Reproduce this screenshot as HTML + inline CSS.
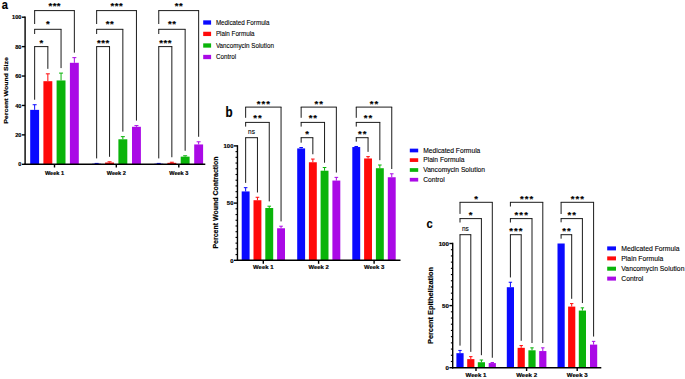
<!DOCTYPE html>
<html><head><meta charset="utf-8"><title>Figure</title>
<style>html,body{margin:0;padding:0;background:#fff;overflow:hidden}svg{display:block}text{font-family:"Liberation Sans",Arial,sans-serif;fill:#000}</style>
</head><body>
<svg width="685" height="379" viewBox="0 0 685 379">
<rect width="685" height="379" fill="#fff"/>
<line x1="34.65" y1="109.87" x2="34.65" y2="104.72" stroke="#0a0aff" stroke-width="1.0"/>
<line x1="32.65" y1="104.72" x2="36.65" y2="104.72" stroke="#0a0aff" stroke-width="1.0"/>
<rect x="30.20" y="109.87" width="8.90" height="54.43" fill="#0a0aff"/>
<line x1="47.85" y1="81.19" x2="47.85" y2="73.83" stroke="#ff0a0a" stroke-width="1.0"/>
<line x1="45.85" y1="73.83" x2="49.85" y2="73.83" stroke="#ff0a0a" stroke-width="1.0"/>
<rect x="43.40" y="81.19" width="8.90" height="83.11" fill="#ff0a0a"/>
<line x1="61.05" y1="80.45" x2="61.05" y2="73.10" stroke="#0ab40a" stroke-width="1.0"/>
<line x1="59.05" y1="73.10" x2="63.05" y2="73.10" stroke="#0ab40a" stroke-width="1.0"/>
<rect x="56.60" y="80.45" width="8.90" height="83.85" fill="#0ab40a"/>
<line x1="74.35" y1="62.80" x2="74.35" y2="57.65" stroke="#aa0ae6" stroke-width="1.0"/>
<line x1="72.35" y1="57.65" x2="76.35" y2="57.65" stroke="#aa0ae6" stroke-width="1.0"/>
<rect x="69.90" y="62.80" width="8.90" height="101.50" fill="#aa0ae6"/>
<line x1="96.65" y1="163.71" x2="96.65" y2="163.42" stroke="#0a0aff" stroke-width="1.0"/>
<line x1="94.65" y1="163.42" x2="98.65" y2="163.42" stroke="#0a0aff" stroke-width="1.0"/>
<rect x="92.20" y="163.71" width="8.90" height="0.59" fill="#0a0aff"/>
<line x1="109.55" y1="162.53" x2="109.55" y2="161.80" stroke="#ff0a0a" stroke-width="1.0"/>
<line x1="107.55" y1="161.80" x2="111.55" y2="161.80" stroke="#ff0a0a" stroke-width="1.0"/>
<rect x="105.10" y="162.53" width="8.90" height="1.77" fill="#ff0a0a"/>
<line x1="122.85" y1="139.29" x2="122.85" y2="136.65" stroke="#0ab40a" stroke-width="1.0"/>
<line x1="120.85" y1="136.65" x2="124.85" y2="136.65" stroke="#0ab40a" stroke-width="1.0"/>
<rect x="118.40" y="139.29" width="8.90" height="25.01" fill="#0ab40a"/>
<line x1="136.45" y1="126.79" x2="136.45" y2="125.61" stroke="#aa0ae6" stroke-width="1.0"/>
<line x1="134.45" y1="125.61" x2="138.45" y2="125.61" stroke="#aa0ae6" stroke-width="1.0"/>
<rect x="132.00" y="126.79" width="8.90" height="37.51" fill="#aa0ae6"/>
<line x1="158.75" y1="163.71" x2="158.75" y2="163.42" stroke="#0a0aff" stroke-width="1.0"/>
<line x1="156.75" y1="163.42" x2="160.75" y2="163.42" stroke="#0a0aff" stroke-width="1.0"/>
<rect x="154.30" y="163.71" width="8.90" height="0.59" fill="#0a0aff"/>
<line x1="171.85" y1="162.83" x2="171.85" y2="162.24" stroke="#ff0a0a" stroke-width="1.0"/>
<line x1="169.85" y1="162.24" x2="173.85" y2="162.24" stroke="#ff0a0a" stroke-width="1.0"/>
<rect x="167.40" y="162.83" width="8.90" height="1.47" fill="#ff0a0a"/>
<line x1="185.15" y1="156.65" x2="185.15" y2="155.77" stroke="#0ab40a" stroke-width="1.0"/>
<line x1="183.15" y1="155.77" x2="187.15" y2="155.77" stroke="#0ab40a" stroke-width="1.0"/>
<rect x="180.70" y="156.65" width="8.90" height="7.65" fill="#0ab40a"/>
<line x1="198.65" y1="144.44" x2="198.65" y2="141.79" stroke="#aa0ae6" stroke-width="1.0"/>
<line x1="196.65" y1="141.79" x2="200.65" y2="141.79" stroke="#aa0ae6" stroke-width="1.0"/>
<rect x="194.20" y="144.44" width="8.90" height="19.86" fill="#aa0ae6"/>
<line x1="25.10" y1="165.00" x2="25.10" y2="16.50" stroke="#000" stroke-width="1.4"/>
<line x1="24.40" y1="164.30" x2="205.30" y2="164.30" stroke="#000" stroke-width="1.4"/>
<line x1="21.90" y1="164.30" x2="25.10" y2="164.30" stroke="#000" stroke-width="1.4"/>
<text transform="translate(21.40 166.42) scale(0.95 1)" font-size="5.9" text-anchor="end" font-weight="bold" stroke="#000" stroke-width="0.18">0</text>
<line x1="21.90" y1="134.88" x2="25.10" y2="134.88" stroke="#000" stroke-width="1.4"/>
<text transform="translate(21.40 137.00) scale(0.95 1)" font-size="5.9" text-anchor="end" font-weight="bold" stroke="#000" stroke-width="0.18">20</text>
<line x1="21.90" y1="105.46" x2="25.10" y2="105.46" stroke="#000" stroke-width="1.4"/>
<text transform="translate(21.40 107.58) scale(0.95 1)" font-size="5.9" text-anchor="end" font-weight="bold" stroke="#000" stroke-width="0.18">40</text>
<line x1="21.90" y1="76.04" x2="25.10" y2="76.04" stroke="#000" stroke-width="1.4"/>
<text transform="translate(21.40 78.16) scale(0.95 1)" font-size="5.9" text-anchor="end" font-weight="bold" stroke="#000" stroke-width="0.18">60</text>
<line x1="21.90" y1="46.62" x2="25.10" y2="46.62" stroke="#000" stroke-width="1.4"/>
<text transform="translate(21.40 48.74) scale(0.95 1)" font-size="5.9" text-anchor="end" font-weight="bold" stroke="#000" stroke-width="0.18">80</text>
<line x1="21.90" y1="17.20" x2="25.10" y2="17.20" stroke="#000" stroke-width="1.4"/>
<text transform="translate(21.40 19.32) scale(0.95 1)" font-size="5.9" text-anchor="end" font-weight="bold" stroke="#000" stroke-width="0.18">100</text>
<line x1="54.50" y1="164.30" x2="54.50" y2="167.50" stroke="#000" stroke-width="1.4"/>
<text transform="translate(54.50 175.00) scale(0.95 1)" font-size="5.9" text-anchor="middle" font-weight="bold" stroke="#000" stroke-width="0.18">Week 1</text>
<line x1="116.30" y1="164.30" x2="116.30" y2="167.50" stroke="#000" stroke-width="1.4"/>
<text transform="translate(116.30 175.00) scale(0.95 1)" font-size="5.9" text-anchor="middle" font-weight="bold" stroke="#000" stroke-width="0.18">Week 2</text>
<line x1="178.80" y1="164.30" x2="178.80" y2="167.50" stroke="#000" stroke-width="1.4"/>
<text transform="translate(178.80 175.00) scale(0.95 1)" font-size="5.9" text-anchor="middle" font-weight="bold" stroke="#000" stroke-width="0.18">Week 3</text>
<text transform="translate(8.30 90.50) rotate(-90) scale(1.12 1)" font-size="6.2" text-anchor="middle" font-weight="bold" stroke="#000" stroke-width="0.18">Percent Wound Size</text>
<line x1="34.20" y1="10.60" x2="74.80" y2="10.60" stroke="#000" stroke-width="0.9"/>
<line x1="34.65" y1="10.60" x2="34.65" y2="24.00" stroke="#000" stroke-width="0.9"/>
<line x1="74.35" y1="10.60" x2="74.35" y2="52.65" stroke="#000" stroke-width="0.9"/>
<text transform="translate(54.75 9.11)" font-size="9.5" text-anchor="middle" font-weight="bold" stroke="#000" stroke-width="0.18" letter-spacing="0.5">***</text>
<line x1="34.20" y1="29.30" x2="61.50" y2="29.30" stroke="#000" stroke-width="0.9"/>
<line x1="34.65" y1="29.30" x2="34.65" y2="34.00" stroke="#000" stroke-width="0.9"/>
<line x1="61.05" y1="29.30" x2="61.05" y2="68.10" stroke="#000" stroke-width="0.9"/>
<text transform="translate(48.10 27.02)" font-size="9.5" text-anchor="middle" font-weight="bold" stroke="#000" stroke-width="0.18" letter-spacing="0.5">*</text>
<line x1="34.20" y1="46.60" x2="48.30" y2="46.60" stroke="#000" stroke-width="0.9"/>
<line x1="34.65" y1="46.60" x2="34.65" y2="99.72" stroke="#000" stroke-width="0.9"/>
<line x1="47.85" y1="46.60" x2="47.85" y2="68.83" stroke="#000" stroke-width="0.9"/>
<text transform="translate(41.50 45.72)" font-size="9.5" text-anchor="middle" font-weight="bold" stroke="#000" stroke-width="0.18" letter-spacing="0.5">*</text>
<line x1="96.20" y1="10.60" x2="136.90" y2="10.60" stroke="#000" stroke-width="0.9"/>
<line x1="96.65" y1="10.60" x2="96.65" y2="24.00" stroke="#000" stroke-width="0.9"/>
<line x1="136.45" y1="10.60" x2="136.45" y2="120.61" stroke="#000" stroke-width="0.9"/>
<text transform="translate(116.80 9.11)" font-size="9.5" text-anchor="middle" font-weight="bold" stroke="#000" stroke-width="0.18" letter-spacing="0.5">***</text>
<line x1="96.20" y1="29.30" x2="123.30" y2="29.30" stroke="#000" stroke-width="0.9"/>
<line x1="96.65" y1="29.30" x2="96.65" y2="34.00" stroke="#000" stroke-width="0.9"/>
<line x1="122.85" y1="29.30" x2="122.85" y2="131.65" stroke="#000" stroke-width="0.9"/>
<text transform="translate(110.00 27.02)" font-size="9.5" text-anchor="middle" font-weight="bold" stroke="#000" stroke-width="0.18" letter-spacing="0.5">**</text>
<line x1="96.20" y1="46.60" x2="110.00" y2="46.60" stroke="#000" stroke-width="0.9"/>
<line x1="96.65" y1="46.60" x2="96.65" y2="158.42" stroke="#000" stroke-width="0.9"/>
<line x1="109.55" y1="46.60" x2="109.55" y2="156.80" stroke="#000" stroke-width="0.9"/>
<text transform="translate(103.35 45.72)" font-size="9.5" text-anchor="middle" font-weight="bold" stroke="#000" stroke-width="0.18" letter-spacing="0.5">***</text>
<line x1="158.30" y1="10.60" x2="199.10" y2="10.60" stroke="#000" stroke-width="0.9"/>
<line x1="158.75" y1="10.60" x2="158.75" y2="24.00" stroke="#000" stroke-width="0.9"/>
<line x1="198.65" y1="10.60" x2="198.65" y2="136.79" stroke="#000" stroke-width="0.9"/>
<text transform="translate(178.95 9.11)" font-size="9.5" text-anchor="middle" font-weight="bold" stroke="#000" stroke-width="0.18" letter-spacing="0.5">**</text>
<line x1="158.30" y1="29.30" x2="185.60" y2="29.30" stroke="#000" stroke-width="0.9"/>
<line x1="158.75" y1="29.30" x2="158.75" y2="34.00" stroke="#000" stroke-width="0.9"/>
<line x1="185.15" y1="29.30" x2="185.15" y2="150.77" stroke="#000" stroke-width="0.9"/>
<text transform="translate(172.20 27.02)" font-size="9.5" text-anchor="middle" font-weight="bold" stroke="#000" stroke-width="0.18" letter-spacing="0.5">**</text>
<line x1="158.30" y1="46.60" x2="172.30" y2="46.60" stroke="#000" stroke-width="0.9"/>
<line x1="158.75" y1="46.60" x2="158.75" y2="158.42" stroke="#000" stroke-width="0.9"/>
<line x1="171.85" y1="46.60" x2="171.85" y2="157.24" stroke="#000" stroke-width="0.9"/>
<text transform="translate(165.55 45.72)" font-size="9.5" text-anchor="middle" font-weight="bold" stroke="#000" stroke-width="0.18" letter-spacing="0.5">***</text>
<rect x="203.20" y="20.35" width="7.90" height="4.30" fill="#0a0aff"/>
<text transform="translate(215.90 24.88) scale(0.91 1)" font-size="6.9" text-anchor="start" stroke="#000" stroke-width="0.1">Medicated Formula</text>
<rect x="203.20" y="31.75" width="7.90" height="4.30" fill="#ff0a0a"/>
<text transform="translate(215.90 36.28) scale(0.91 1)" font-size="6.9" text-anchor="start" stroke="#000" stroke-width="0.1">Plain Formula</text>
<rect x="203.20" y="43.35" width="7.90" height="4.30" fill="#0ab40a"/>
<text transform="translate(215.90 47.88) scale(0.91 1)" font-size="6.9" text-anchor="start" stroke="#000" stroke-width="0.1">Vancomycin Solution</text>
<rect x="203.20" y="54.85" width="7.90" height="4.30" fill="#aa0ae6"/>
<text transform="translate(215.90 59.38) scale(0.91 1)" font-size="6.9" text-anchor="start" stroke="#000" stroke-width="0.1">Control</text>
<text transform="translate(1.80 9.40) scale(0.85 1)" font-size="13" text-anchor="start" font-weight="bold" stroke="#000" stroke-width="0.18">a</text>
<line x1="245.65" y1="191.43" x2="245.65" y2="187.66" stroke="#0a0aff" stroke-width="1.0"/>
<line x1="243.85" y1="187.66" x2="247.45" y2="187.66" stroke="#0a0aff" stroke-width="1.0"/>
<rect x="241.70" y="191.43" width="7.90" height="68.87" fill="#0a0aff"/>
<line x1="257.45" y1="200.24" x2="257.45" y2="197.27" stroke="#ff0a0a" stroke-width="1.0"/>
<line x1="255.65" y1="197.27" x2="259.25" y2="197.27" stroke="#ff0a0a" stroke-width="1.0"/>
<rect x="253.50" y="200.24" width="7.90" height="60.06" fill="#ff0a0a"/>
<line x1="269.25" y1="208.02" x2="269.25" y2="206.19" stroke="#0ab40a" stroke-width="1.0"/>
<line x1="267.45" y1="206.19" x2="271.05" y2="206.19" stroke="#0ab40a" stroke-width="1.0"/>
<rect x="265.30" y="208.02" width="7.90" height="52.28" fill="#0ab40a"/>
<line x1="281.05" y1="228.27" x2="281.05" y2="226.21" stroke="#aa0ae6" stroke-width="1.0"/>
<line x1="279.25" y1="226.21" x2="282.85" y2="226.21" stroke="#aa0ae6" stroke-width="1.0"/>
<rect x="277.10" y="228.27" width="7.90" height="32.03" fill="#aa0ae6"/>
<line x1="301.15" y1="148.42" x2="301.15" y2="147.50" stroke="#0a0aff" stroke-width="1.0"/>
<line x1="299.35" y1="147.50" x2="302.95" y2="147.50" stroke="#0a0aff" stroke-width="1.0"/>
<rect x="297.20" y="148.42" width="7.90" height="111.88" fill="#0a0aff"/>
<line x1="312.85" y1="162.26" x2="312.85" y2="159.06" stroke="#ff0a0a" stroke-width="1.0"/>
<line x1="311.05" y1="159.06" x2="314.65" y2="159.06" stroke="#ff0a0a" stroke-width="1.0"/>
<rect x="308.90" y="162.26" width="7.90" height="98.04" fill="#ff0a0a"/>
<line x1="324.55" y1="170.72" x2="324.55" y2="167.52" stroke="#0ab40a" stroke-width="1.0"/>
<line x1="322.75" y1="167.52" x2="326.35" y2="167.52" stroke="#0ab40a" stroke-width="1.0"/>
<rect x="320.60" y="170.72" width="7.90" height="89.58" fill="#0ab40a"/>
<line x1="336.35" y1="180.56" x2="336.35" y2="177.36" stroke="#aa0ae6" stroke-width="1.0"/>
<line x1="334.55" y1="177.36" x2="338.15" y2="177.36" stroke="#aa0ae6" stroke-width="1.0"/>
<rect x="332.40" y="180.56" width="7.90" height="79.74" fill="#aa0ae6"/>
<line x1="356.25" y1="147.04" x2="356.25" y2="146.47" stroke="#0a0aff" stroke-width="1.0"/>
<line x1="354.45" y1="146.47" x2="358.05" y2="146.47" stroke="#0a0aff" stroke-width="1.0"/>
<rect x="352.30" y="147.04" width="7.90" height="113.26" fill="#0a0aff"/>
<line x1="368.05" y1="158.48" x2="368.05" y2="156.65" stroke="#ff0a0a" stroke-width="1.0"/>
<line x1="366.25" y1="156.65" x2="369.85" y2="156.65" stroke="#ff0a0a" stroke-width="1.0"/>
<rect x="364.10" y="158.48" width="7.90" height="101.82" fill="#ff0a0a"/>
<line x1="379.85" y1="168.21" x2="379.85" y2="165.00" stroke="#0ab40a" stroke-width="1.0"/>
<line x1="378.05" y1="165.00" x2="381.65" y2="165.00" stroke="#0ab40a" stroke-width="1.0"/>
<rect x="375.90" y="168.21" width="7.90" height="92.09" fill="#0ab40a"/>
<line x1="391.75" y1="177.25" x2="391.75" y2="173.81" stroke="#aa0ae6" stroke-width="1.0"/>
<line x1="389.95" y1="173.81" x2="393.55" y2="173.81" stroke="#aa0ae6" stroke-width="1.0"/>
<rect x="387.80" y="177.25" width="7.90" height="83.05" fill="#aa0ae6"/>
<line x1="237.45" y1="261.00" x2="237.45" y2="145.20" stroke="#000" stroke-width="1.4"/>
<line x1="236.75" y1="260.30" x2="400.50" y2="260.30" stroke="#000" stroke-width="1.4"/>
<line x1="233.95" y1="260.30" x2="237.45" y2="260.30" stroke="#000" stroke-width="1.4"/>
<text transform="translate(233.45 262.53) scale(0.96 1)" font-size="6.2" text-anchor="end" font-weight="bold" stroke="#000" stroke-width="0.18">0</text>
<line x1="233.95" y1="203.10" x2="237.45" y2="203.10" stroke="#000" stroke-width="1.4"/>
<text transform="translate(233.45 205.33) scale(0.96 1)" font-size="6.2" text-anchor="end" font-weight="bold" stroke="#000" stroke-width="0.18">50</text>
<line x1="233.95" y1="145.90" x2="237.45" y2="145.90" stroke="#000" stroke-width="1.4"/>
<text transform="translate(233.45 148.13) scale(0.96 1)" font-size="6.2" text-anchor="end" font-weight="bold" stroke="#000" stroke-width="0.18">100</text>
<line x1="235.52" y1="254.58" x2="237.45" y2="254.58" stroke="#000" stroke-width="1.1199999999999999"/>
<line x1="235.52" y1="248.86" x2="237.45" y2="248.86" stroke="#000" stroke-width="1.1199999999999999"/>
<line x1="235.52" y1="243.14" x2="237.45" y2="243.14" stroke="#000" stroke-width="1.1199999999999999"/>
<line x1="235.52" y1="237.42" x2="237.45" y2="237.42" stroke="#000" stroke-width="1.1199999999999999"/>
<line x1="235.52" y1="231.70" x2="237.45" y2="231.70" stroke="#000" stroke-width="1.1199999999999999"/>
<line x1="235.52" y1="225.98" x2="237.45" y2="225.98" stroke="#000" stroke-width="1.1199999999999999"/>
<line x1="235.52" y1="220.26" x2="237.45" y2="220.26" stroke="#000" stroke-width="1.1199999999999999"/>
<line x1="235.52" y1="214.54" x2="237.45" y2="214.54" stroke="#000" stroke-width="1.1199999999999999"/>
<line x1="235.52" y1="208.82" x2="237.45" y2="208.82" stroke="#000" stroke-width="1.1199999999999999"/>
<line x1="235.52" y1="197.38" x2="237.45" y2="197.38" stroke="#000" stroke-width="1.1199999999999999"/>
<line x1="235.52" y1="191.66" x2="237.45" y2="191.66" stroke="#000" stroke-width="1.1199999999999999"/>
<line x1="235.52" y1="185.94" x2="237.45" y2="185.94" stroke="#000" stroke-width="1.1199999999999999"/>
<line x1="235.52" y1="180.22" x2="237.45" y2="180.22" stroke="#000" stroke-width="1.1199999999999999"/>
<line x1="235.52" y1="174.50" x2="237.45" y2="174.50" stroke="#000" stroke-width="1.1199999999999999"/>
<line x1="235.52" y1="168.78" x2="237.45" y2="168.78" stroke="#000" stroke-width="1.1199999999999999"/>
<line x1="235.52" y1="163.06" x2="237.45" y2="163.06" stroke="#000" stroke-width="1.1199999999999999"/>
<line x1="235.52" y1="157.34" x2="237.45" y2="157.34" stroke="#000" stroke-width="1.1199999999999999"/>
<line x1="235.52" y1="151.62" x2="237.45" y2="151.62" stroke="#000" stroke-width="1.1199999999999999"/>
<line x1="263.30" y1="260.30" x2="263.30" y2="263.80" stroke="#000" stroke-width="1.4"/>
<text transform="translate(263.30 269.40) scale(0.96 1)" font-size="6.2" text-anchor="middle" font-weight="bold" stroke="#000" stroke-width="0.18">Week 1</text>
<line x1="318.60" y1="260.30" x2="318.60" y2="263.80" stroke="#000" stroke-width="1.4"/>
<text transform="translate(318.60 269.40) scale(0.96 1)" font-size="6.2" text-anchor="middle" font-weight="bold" stroke="#000" stroke-width="0.18">Week 2</text>
<line x1="374.10" y1="260.30" x2="374.10" y2="263.80" stroke="#000" stroke-width="1.4"/>
<text transform="translate(374.10 269.40) scale(0.96 1)" font-size="6.2" text-anchor="middle" font-weight="bold" stroke="#000" stroke-width="0.18">Week 3</text>
<text transform="translate(218.30 202.50) rotate(-90) scale(1.075 1)" font-size="6.5" text-anchor="middle" font-weight="bold" stroke="#000" stroke-width="0.18">Percent Wound Contraction</text>
<line x1="245.20" y1="107.10" x2="281.50" y2="107.10" stroke="#000" stroke-width="0.9"/>
<line x1="245.65" y1="107.10" x2="245.65" y2="117.80" stroke="#000" stroke-width="0.9"/>
<line x1="281.05" y1="107.10" x2="281.05" y2="221.41" stroke="#000" stroke-width="0.9"/>
<text transform="translate(263.85 106.72)" font-size="9.5" text-anchor="middle" font-weight="bold" stroke="#000" stroke-width="0.18" letter-spacing="1.0">***</text>
<line x1="245.20" y1="122.40" x2="269.70" y2="122.40" stroke="#000" stroke-width="0.9"/>
<line x1="245.65" y1="122.40" x2="245.65" y2="126.60" stroke="#000" stroke-width="0.9"/>
<line x1="269.25" y1="122.40" x2="269.25" y2="201.39" stroke="#000" stroke-width="0.9"/>
<text transform="translate(257.95 121.31)" font-size="9.5" text-anchor="middle" font-weight="bold" stroke="#000" stroke-width="0.18" letter-spacing="1.0">**</text>
<line x1="245.20" y1="137.70" x2="257.90" y2="137.70" stroke="#000" stroke-width="0.9"/>
<line x1="245.65" y1="137.70" x2="245.65" y2="182.86" stroke="#000" stroke-width="0.9"/>
<line x1="257.45" y1="137.70" x2="257.45" y2="192.47" stroke="#000" stroke-width="0.9"/>
<text transform="translate(251.55 134.30)" font-size="6.5" text-anchor="middle" stroke="#000" stroke-width="0.1">ns</text>
<line x1="300.70" y1="107.10" x2="336.80" y2="107.10" stroke="#000" stroke-width="0.9"/>
<line x1="301.15" y1="107.10" x2="301.15" y2="117.80" stroke="#000" stroke-width="0.9"/>
<line x1="336.35" y1="107.10" x2="336.35" y2="172.56" stroke="#000" stroke-width="0.9"/>
<text transform="translate(319.25 106.72)" font-size="9.5" text-anchor="middle" font-weight="bold" stroke="#000" stroke-width="0.18" letter-spacing="1.0">**</text>
<line x1="300.70" y1="122.40" x2="325.00" y2="122.40" stroke="#000" stroke-width="0.9"/>
<line x1="301.15" y1="122.40" x2="301.15" y2="126.60" stroke="#000" stroke-width="0.9"/>
<line x1="324.55" y1="122.40" x2="324.55" y2="162.72" stroke="#000" stroke-width="0.9"/>
<text transform="translate(313.35 121.31)" font-size="9.5" text-anchor="middle" font-weight="bold" stroke="#000" stroke-width="0.18" letter-spacing="1.0">**</text>
<line x1="300.70" y1="137.70" x2="313.30" y2="137.70" stroke="#000" stroke-width="0.9"/>
<line x1="301.15" y1="137.70" x2="301.15" y2="142.70" stroke="#000" stroke-width="0.9"/>
<line x1="312.85" y1="137.70" x2="312.85" y2="154.26" stroke="#000" stroke-width="0.9"/>
<text transform="translate(307.50 137.31)" font-size="9.5" text-anchor="middle" font-weight="bold" stroke="#000" stroke-width="0.18" letter-spacing="1.0">*</text>
<line x1="355.80" y1="107.10" x2="392.20" y2="107.10" stroke="#000" stroke-width="0.9"/>
<line x1="356.25" y1="107.10" x2="356.25" y2="117.80" stroke="#000" stroke-width="0.9"/>
<line x1="391.75" y1="107.10" x2="391.75" y2="169.01" stroke="#000" stroke-width="0.9"/>
<text transform="translate(374.50 106.72)" font-size="9.5" text-anchor="middle" font-weight="bold" stroke="#000" stroke-width="0.18" letter-spacing="1.0">**</text>
<line x1="355.80" y1="122.40" x2="380.30" y2="122.40" stroke="#000" stroke-width="0.9"/>
<line x1="356.25" y1="122.40" x2="356.25" y2="126.60" stroke="#000" stroke-width="0.9"/>
<line x1="379.85" y1="122.40" x2="379.85" y2="160.20" stroke="#000" stroke-width="0.9"/>
<text transform="translate(368.55 121.31)" font-size="9.5" text-anchor="middle" font-weight="bold" stroke="#000" stroke-width="0.18" letter-spacing="1.0">**</text>
<line x1="355.80" y1="137.70" x2="368.50" y2="137.70" stroke="#000" stroke-width="0.9"/>
<line x1="356.25" y1="137.70" x2="356.25" y2="141.67" stroke="#000" stroke-width="0.9"/>
<line x1="368.05" y1="137.70" x2="368.05" y2="151.85" stroke="#000" stroke-width="0.9"/>
<text transform="translate(362.65 137.31)" font-size="9.5" text-anchor="middle" font-weight="bold" stroke="#000" stroke-width="0.18" letter-spacing="1.0">**</text>
<rect x="409.80" y="148.65" width="8.40" height="3.70" fill="#0a0aff"/>
<text transform="translate(423.20 152.74) scale(1.03 1)" font-size="6.5" text-anchor="start" stroke="#000" stroke-width="0.1">Medicated Formula</text>
<rect x="409.80" y="158.25" width="8.40" height="3.70" fill="#ff0a0a"/>
<text transform="translate(423.20 162.34) scale(1.03 1)" font-size="6.5" text-anchor="start" stroke="#000" stroke-width="0.1">Plain Formula</text>
<rect x="409.80" y="168.15" width="8.40" height="3.70" fill="#0ab40a"/>
<text transform="translate(423.20 172.24) scale(1.03 1)" font-size="6.5" text-anchor="start" stroke="#000" stroke-width="0.1">Vancomycin Solution</text>
<rect x="409.80" y="177.85" width="8.40" height="3.70" fill="#aa0ae6"/>
<text transform="translate(423.20 181.94) scale(1.03 1)" font-size="6.5" text-anchor="start" stroke="#000" stroke-width="0.1">Control</text>
<text transform="translate(225.50 116.90) scale(0.83 1)" font-size="14" text-anchor="start" font-weight="bold" stroke="#000" stroke-width="0.18">b</text>
<line x1="460.00" y1="353.17" x2="460.00" y2="350.44" stroke="#0a0aff" stroke-width="1.0"/>
<line x1="458.30" y1="350.44" x2="461.70" y2="350.44" stroke="#0a0aff" stroke-width="1.0"/>
<rect x="456.40" y="353.17" width="7.20" height="14.53" fill="#0a0aff"/>
<line x1="470.80" y1="359.13" x2="470.80" y2="356.65" stroke="#ff0a0a" stroke-width="1.0"/>
<line x1="469.10" y1="356.65" x2="472.50" y2="356.65" stroke="#ff0a0a" stroke-width="1.0"/>
<rect x="467.20" y="359.13" width="7.20" height="8.57" fill="#ff0a0a"/>
<line x1="481.40" y1="362.24" x2="481.40" y2="360.00" stroke="#0ab40a" stroke-width="1.0"/>
<line x1="479.70" y1="360.00" x2="483.10" y2="360.00" stroke="#0ab40a" stroke-width="1.0"/>
<rect x="477.80" y="362.24" width="7.20" height="5.46" fill="#0ab40a"/>
<line x1="492.30" y1="363.10" x2="492.30" y2="362.55" stroke="#aa0ae6" stroke-width="1.0"/>
<line x1="490.60" y1="362.55" x2="494.00" y2="362.55" stroke="#aa0ae6" stroke-width="1.0"/>
<rect x="488.70" y="363.10" width="7.20" height="4.60" fill="#aa0ae6"/>
<line x1="510.40" y1="287.22" x2="510.40" y2="282.25" stroke="#0a0aff" stroke-width="1.0"/>
<line x1="508.70" y1="282.25" x2="512.10" y2="282.25" stroke="#0a0aff" stroke-width="1.0"/>
<rect x="506.80" y="287.22" width="7.20" height="80.48" fill="#0a0aff"/>
<line x1="521.20" y1="347.83" x2="521.20" y2="345.59" stroke="#ff0a0a" stroke-width="1.0"/>
<line x1="519.50" y1="345.59" x2="522.90" y2="345.59" stroke="#ff0a0a" stroke-width="1.0"/>
<rect x="517.60" y="347.83" width="7.20" height="19.87" fill="#ff0a0a"/>
<line x1="532.00" y1="350.31" x2="532.00" y2="347.83" stroke="#0ab40a" stroke-width="1.0"/>
<line x1="530.30" y1="347.83" x2="533.70" y2="347.83" stroke="#0ab40a" stroke-width="1.0"/>
<rect x="528.40" y="350.31" width="7.20" height="17.39" fill="#0ab40a"/>
<line x1="542.80" y1="351.06" x2="542.80" y2="347.83" stroke="#aa0ae6" stroke-width="1.0"/>
<line x1="541.10" y1="347.83" x2="544.50" y2="347.83" stroke="#aa0ae6" stroke-width="1.0"/>
<rect x="539.20" y="351.06" width="7.20" height="16.64" fill="#aa0ae6"/>
<rect x="557.50" y="243.50" width="7.20" height="124.20" fill="#0a0aff"/>
<line x1="571.70" y1="306.59" x2="571.70" y2="303.61" stroke="#ff0a0a" stroke-width="1.0"/>
<line x1="570.00" y1="303.61" x2="573.40" y2="303.61" stroke="#ff0a0a" stroke-width="1.0"/>
<rect x="568.10" y="306.59" width="7.20" height="61.11" fill="#ff0a0a"/>
<line x1="582.40" y1="310.57" x2="582.40" y2="307.84" stroke="#0ab40a" stroke-width="1.0"/>
<line x1="580.70" y1="307.84" x2="584.10" y2="307.84" stroke="#0ab40a" stroke-width="1.0"/>
<rect x="578.80" y="310.57" width="7.20" height="57.13" fill="#0ab40a"/>
<line x1="593.60" y1="344.60" x2="593.60" y2="341.37" stroke="#aa0ae6" stroke-width="1.0"/>
<line x1="591.90" y1="341.37" x2="595.30" y2="341.37" stroke="#aa0ae6" stroke-width="1.0"/>
<rect x="590.00" y="344.60" width="7.20" height="23.10" fill="#aa0ae6"/>
<line x1="452.70" y1="368.40" x2="452.70" y2="242.80" stroke="#000" stroke-width="1.4"/>
<line x1="452.00" y1="367.70" x2="601.30" y2="367.70" stroke="#000" stroke-width="1.4"/>
<line x1="449.40" y1="367.70" x2="452.70" y2="367.70" stroke="#000" stroke-width="1.4"/>
<text transform="translate(448.80 369.90)" font-size="6.1" text-anchor="end" font-weight="bold" stroke="#000" stroke-width="0.18">0</text>
<line x1="449.40" y1="305.60" x2="452.70" y2="305.60" stroke="#000" stroke-width="1.4"/>
<text transform="translate(448.80 307.80)" font-size="6.1" text-anchor="end" font-weight="bold" stroke="#000" stroke-width="0.18">50</text>
<line x1="449.40" y1="243.50" x2="452.70" y2="243.50" stroke="#000" stroke-width="1.4"/>
<text transform="translate(448.80 245.70)" font-size="6.1" text-anchor="end" font-weight="bold" stroke="#000" stroke-width="0.18">100</text>
<line x1="450.88" y1="361.49" x2="452.70" y2="361.49" stroke="#000" stroke-width="1.1199999999999999"/>
<line x1="450.88" y1="355.28" x2="452.70" y2="355.28" stroke="#000" stroke-width="1.1199999999999999"/>
<line x1="450.88" y1="349.07" x2="452.70" y2="349.07" stroke="#000" stroke-width="1.1199999999999999"/>
<line x1="450.88" y1="342.86" x2="452.70" y2="342.86" stroke="#000" stroke-width="1.1199999999999999"/>
<line x1="450.88" y1="336.65" x2="452.70" y2="336.65" stroke="#000" stroke-width="1.1199999999999999"/>
<line x1="450.88" y1="330.44" x2="452.70" y2="330.44" stroke="#000" stroke-width="1.1199999999999999"/>
<line x1="450.88" y1="324.23" x2="452.70" y2="324.23" stroke="#000" stroke-width="1.1199999999999999"/>
<line x1="450.88" y1="318.02" x2="452.70" y2="318.02" stroke="#000" stroke-width="1.1199999999999999"/>
<line x1="450.88" y1="311.81" x2="452.70" y2="311.81" stroke="#000" stroke-width="1.1199999999999999"/>
<line x1="450.88" y1="299.39" x2="452.70" y2="299.39" stroke="#000" stroke-width="1.1199999999999999"/>
<line x1="450.88" y1="293.18" x2="452.70" y2="293.18" stroke="#000" stroke-width="1.1199999999999999"/>
<line x1="450.88" y1="286.97" x2="452.70" y2="286.97" stroke="#000" stroke-width="1.1199999999999999"/>
<line x1="450.88" y1="280.76" x2="452.70" y2="280.76" stroke="#000" stroke-width="1.1199999999999999"/>
<line x1="450.88" y1="274.55" x2="452.70" y2="274.55" stroke="#000" stroke-width="1.1199999999999999"/>
<line x1="450.88" y1="268.34" x2="452.70" y2="268.34" stroke="#000" stroke-width="1.1199999999999999"/>
<line x1="450.88" y1="262.13" x2="452.70" y2="262.13" stroke="#000" stroke-width="1.1199999999999999"/>
<line x1="450.88" y1="255.92" x2="452.70" y2="255.92" stroke="#000" stroke-width="1.1199999999999999"/>
<line x1="450.88" y1="249.71" x2="452.70" y2="249.71" stroke="#000" stroke-width="1.1199999999999999"/>
<line x1="476.00" y1="367.70" x2="476.00" y2="371.00" stroke="#000" stroke-width="1.4"/>
<text transform="translate(476.00 377.30)" font-size="6.1" text-anchor="middle" font-weight="bold" stroke="#000" stroke-width="0.18">Week 1</text>
<line x1="526.60" y1="367.70" x2="526.60" y2="371.00" stroke="#000" stroke-width="1.4"/>
<text transform="translate(526.60 377.30)" font-size="6.1" text-anchor="middle" font-weight="bold" stroke="#000" stroke-width="0.18">Week 2</text>
<line x1="577.20" y1="367.70" x2="577.20" y2="371.00" stroke="#000" stroke-width="1.4"/>
<text transform="translate(577.20 377.30)" font-size="6.1" text-anchor="middle" font-weight="bold" stroke="#000" stroke-width="0.18">Week 3</text>
<text transform="translate(433.10 305.50) rotate(-90) scale(1.055 1)" font-size="7.0" text-anchor="middle" font-weight="bold" stroke="#000" stroke-width="0.18">Percent Epithelization</text>
<line x1="459.55" y1="202.30" x2="492.75" y2="202.30" stroke="#000" stroke-width="0.9"/>
<line x1="460.00" y1="202.30" x2="460.00" y2="213.90" stroke="#000" stroke-width="0.9"/>
<line x1="492.30" y1="202.30" x2="492.30" y2="357.75" stroke="#000" stroke-width="0.9"/>
<text transform="translate(476.70 201.72)" font-size="9.5" text-anchor="middle" font-weight="bold" stroke="#000" stroke-width="0.18" letter-spacing="1.1">*</text>
<line x1="459.55" y1="218.60" x2="481.85" y2="218.60" stroke="#000" stroke-width="0.9"/>
<line x1="460.00" y1="218.60" x2="460.00" y2="222.50" stroke="#000" stroke-width="0.9"/>
<line x1="481.40" y1="218.60" x2="481.40" y2="355.20" stroke="#000" stroke-width="0.9"/>
<text transform="translate(471.25 218.11)" font-size="9.5" text-anchor="middle" font-weight="bold" stroke="#000" stroke-width="0.18" letter-spacing="1.1">*</text>
<line x1="459.55" y1="234.70" x2="471.25" y2="234.70" stroke="#000" stroke-width="0.9"/>
<line x1="460.00" y1="234.70" x2="460.00" y2="345.64" stroke="#000" stroke-width="0.9"/>
<line x1="470.80" y1="234.70" x2="470.80" y2="351.85" stroke="#000" stroke-width="0.9"/>
<text transform="translate(465.40 231.10)" font-size="6.5" text-anchor="middle" stroke="#000" stroke-width="0.1">ns</text>
<line x1="509.95" y1="202.30" x2="543.25" y2="202.30" stroke="#000" stroke-width="0.9"/>
<line x1="510.40" y1="202.30" x2="510.40" y2="206.50" stroke="#000" stroke-width="0.9"/>
<line x1="542.80" y1="202.30" x2="542.80" y2="343.03" stroke="#000" stroke-width="0.9"/>
<text transform="translate(527.15 201.72)" font-size="9.5" text-anchor="middle" font-weight="bold" stroke="#000" stroke-width="0.18" letter-spacing="1.1">***</text>
<line x1="509.95" y1="218.60" x2="532.45" y2="218.60" stroke="#000" stroke-width="0.9"/>
<line x1="510.40" y1="218.60" x2="510.40" y2="222.50" stroke="#000" stroke-width="0.9"/>
<line x1="532.00" y1="218.60" x2="532.00" y2="343.03" stroke="#000" stroke-width="0.9"/>
<text transform="translate(521.75 218.11)" font-size="9.5" text-anchor="middle" font-weight="bold" stroke="#000" stroke-width="0.18" letter-spacing="1.1">***</text>
<line x1="509.95" y1="234.70" x2="521.65" y2="234.70" stroke="#000" stroke-width="0.9"/>
<line x1="510.40" y1="234.70" x2="510.40" y2="277.45" stroke="#000" stroke-width="0.9"/>
<line x1="521.20" y1="234.70" x2="521.20" y2="340.79" stroke="#000" stroke-width="0.9"/>
<text transform="translate(516.35 234.31)" font-size="9.5" text-anchor="middle" font-weight="bold" stroke="#000" stroke-width="0.18" letter-spacing="1.1">***</text>
<line x1="560.65" y1="202.30" x2="594.05" y2="202.30" stroke="#000" stroke-width="0.9"/>
<line x1="561.10" y1="202.30" x2="561.10" y2="214.00" stroke="#000" stroke-width="0.9"/>
<line x1="593.60" y1="202.30" x2="593.60" y2="336.57" stroke="#000" stroke-width="0.9"/>
<text transform="translate(577.90 201.72)" font-size="9.5" text-anchor="middle" font-weight="bold" stroke="#000" stroke-width="0.18" letter-spacing="1.1">***</text>
<line x1="560.65" y1="218.60" x2="582.85" y2="218.60" stroke="#000" stroke-width="0.9"/>
<line x1="561.10" y1="218.60" x2="561.10" y2="222.30" stroke="#000" stroke-width="0.9"/>
<line x1="582.40" y1="218.60" x2="582.40" y2="303.04" stroke="#000" stroke-width="0.9"/>
<text transform="translate(572.30 218.11)" font-size="9.5" text-anchor="middle" font-weight="bold" stroke="#000" stroke-width="0.18" letter-spacing="1.1">**</text>
<line x1="560.65" y1="234.70" x2="572.15" y2="234.70" stroke="#000" stroke-width="0.9"/>
<line x1="561.10" y1="234.70" x2="561.10" y2="238.70" stroke="#000" stroke-width="0.9"/>
<line x1="571.70" y1="234.70" x2="571.70" y2="298.81" stroke="#000" stroke-width="0.9"/>
<text transform="translate(566.95 234.31)" font-size="9.5" text-anchor="middle" font-weight="bold" stroke="#000" stroke-width="0.18" letter-spacing="1.1">**</text>
<rect x="607.20" y="246.40" width="8.80" height="4.00" fill="#0a0aff"/>
<text transform="translate(621.30 250.64) scale(1.05 1)" font-size="6.5" text-anchor="start" stroke="#000" stroke-width="0.1">Medicated Formula</text>
<rect x="607.20" y="256.40" width="8.80" height="4.00" fill="#ff0a0a"/>
<text transform="translate(621.30 260.64) scale(1.05 1)" font-size="6.5" text-anchor="start" stroke="#000" stroke-width="0.1">Plain Formula</text>
<rect x="607.20" y="266.70" width="8.80" height="4.00" fill="#0ab40a"/>
<text transform="translate(621.30 270.94) scale(1.05 1)" font-size="6.5" text-anchor="start" stroke="#000" stroke-width="0.1">Vancomycin Solution</text>
<rect x="607.20" y="276.60" width="8.80" height="4.00" fill="#aa0ae6"/>
<text transform="translate(621.30 280.84) scale(1.05 1)" font-size="6.5" text-anchor="start" stroke="#000" stroke-width="0.1">Control</text>
<text transform="translate(426.40 227.60) scale(0.85 1)" font-size="13" text-anchor="start" font-weight="bold" stroke="#000" stroke-width="0.18">c</text>
</svg>
</body></html>
